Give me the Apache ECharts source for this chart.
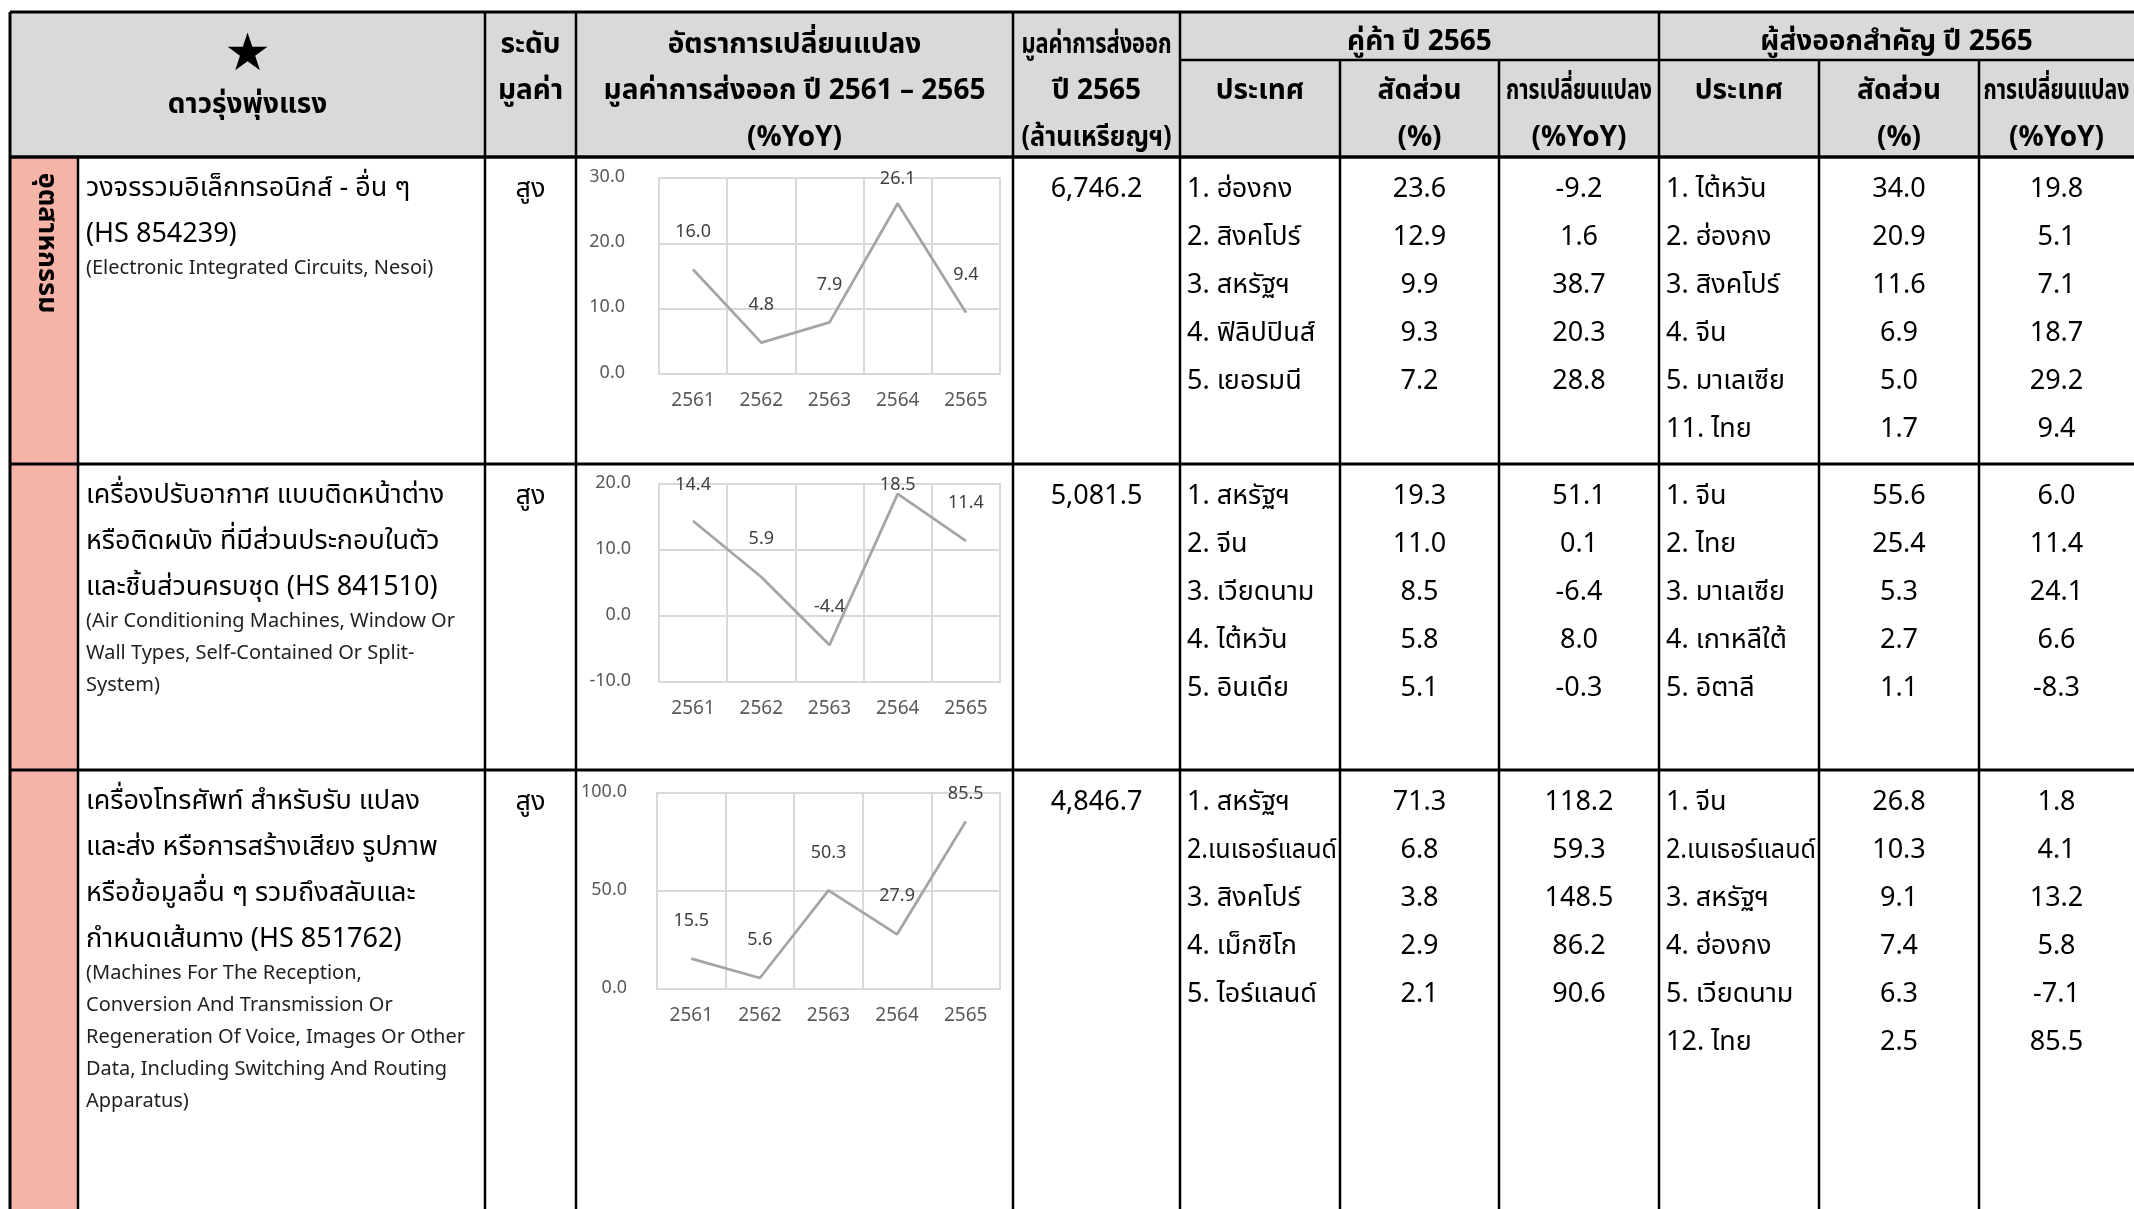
<!DOCTYPE html>
<html>
<head>
<meta charset="utf-8">
<script src="https://cdn.jsdelivr.net/npm/echarts@6/dist/echarts.min.js"></script>
<style>
  html, body { margin: 0; padding: 0; background: #fff; }
  #chart { width: 2134px; height: 1209px; }
</style>
</head>
<body>
<div id="chart"></div>
<script>
// ---------- data ----------
const years = ['2561', '2562', '2563', '2564', '2565'];
const groupName = 'อุตสาหกรรม';
const valueLevel = ['สูง', 'สูง', 'สูง'];
const exportValue2565 = [6746.2, 5081.5, 4846.7];

const icNameTh = ['วงจรรวมอิเล็กทรอนิกส์ - อื่น ๆ', '(HS 854239)'];
const icNameEn = ['(Electronic Integrated Circuits, Nesoi)'];
const icGrowth = [16.0, 4.8, 7.9, 26.1, 9.4];
const icPartners = ['1. ฮ่องกง', '2. สิงคโปร์', '3. สหรัฐฯ', '4. ฟิลิปปินส์', '5. เยอรมนี'];
const icPartnerShare = [23.6, 12.9, 9.9, 9.3, 7.2];
const icPartnerChange = [-9.2, 1.6, 38.7, 20.3, 28.8];
const icExporters = ['1. ไต้หวัน', '2. ฮ่องกง', '3. สิงคโปร์', '4. จีน', '5. มาเลเซีย', '11. ไทย'];
const icExporterShare = [34.0, 20.9, 11.6, 6.9, 5.0, 1.7];
const icExporterChange = [19.8, 5.1, 7.1, 18.7, 29.2, 9.4];

const acNameTh = ['เครื่องปรับอากาศ แบบติดหน้าต่าง', 'หรือติดผนัง ที่มีส่วนประกอบในตัว', 'และชิ้นส่วนครบชุด (HS 841510)'];
const acNameEn = ['(Air Conditioning Machines, Window Or', 'Wall Types, Self-Contained Or Split-', 'System)'];
const acGrowth = [14.4, 5.9, -4.4, 18.5, 11.4];
const acPartners = ['1. สหรัฐฯ', '2. จีน', '3. เวียดนาม', '4. ไต้หวัน', '5. อินเดีย'];
const acPartnerShare = [19.3, 11.0, 8.5, 5.8, 5.1];
const acPartnerChange = [51.1, 0.1, -6.4, 8.0, -0.3];
const acExporters = ['1. จีน', '2. ไทย', '3. มาเลเซีย', '4. เกาหลีใต้', '5. อิตาลี'];
const acExporterShare = [55.6, 25.4, 5.3, 2.7, 1.1];
const acExporterChange = [6.0, 11.4, 24.1, 6.6, -8.3];

const phoneNameTh = ['เครื่องโทรศัพท์ สำหรับรับ แปลง', 'และส่ง หรือการสร้างเสียง รูปภาพ', 'หรือข้อมูลอื่น ๆ รวมถึงสลับและ', 'กำหนดเส้นทาง (HS 851762)'];
const phoneNameEn = ['(Machines For The Reception,', 'Conversion And Transmission Or', 'Regeneration Of Voice, Images Or Other', 'Data, Including Switching And Routing', 'Apparatus)'];
const phoneGrowth = [15.5, 5.6, 50.3, 27.9, 85.5];
const phonePartners = ['1. สหรัฐฯ', '2.เนเธอร์แลนด์', '3. สิงคโปร์', '4. เม็กซิโก', '5. ไอร์แลนด์'];
const phonePartnerShare = [71.3, 6.8, 3.8, 2.9, 2.1];
const phonePartnerChange = [118.2, 59.3, 148.5, 86.2, 90.6];
const phoneExporters = ['1. จีน', '2.เนเธอร์แลนด์', '3. สหรัฐฯ', '4. ฮ่องกง', '5. เวียดนาม', '12. ไทย'];
const phoneExporterShare = [26.8, 10.3, 9.1, 7.4, 6.3, 2.5];
const phoneExporterChange = [1.8, 4.1, 13.2, 5.8, -7.1, 85.5];

// value-axis ranges of the three small growth charts
const growthAxisMin = [0, -10, 0];
const growthAxisMax = [30, 20, 100];
const growthAxisStep = [10, 10, 50];

// header captions
const headStar = '★';
const headProduct = 'ดาวรุ่งพุ่งแรง';
const headLevel = ['ระดับ', 'มูลค่า'];
const headGrowth = ['อัตราการเปลี่ยนแปลง', 'มูลค่าการส่งออก ปี 2561 – 2565', '(%YoY)'];
const headValue = ['มูลค่าการส่งออก', 'ปี 2565', '(ล้านเหรียญฯ)'];
const headPartnerGroup = 'คู่ค้า ปี 2565';
const headExporterGroup = 'ผู้ส่งออกสำคัญ ปี 2565';
const headCountry = 'ประเทศ';
const headShare = ['สัดส่วน', '(%)'];
const headChange = ['การเปลี่ยนแปลง', '(%YoY)'];

// ---------- layout ----------
const FONT = "'Noto Sans Thai', 'Noto Sans', 'DejaVu Sans', sans-serif";
const colX = [10, 78, 485, 576, 1013, 1180, 1340, 1499, 1659, 1819, 1979, 2134];
const headTop = 12, headMid = 60, headBottom = 157;
const rowTops = [157, 464, 770];
const pageBottom = 1209;

const rows = [
  { th: icNameTh, en: icNameEn, growth: icGrowth, partners: icPartners, pShare: icPartnerShare, pChange: icPartnerChange, exporters: icExporters, eShare: icExporterShare, eChange: icExporterChange },
  { th: acNameTh, en: acNameEn, growth: acGrowth, partners: acPartners, pShare: acPartnerShare, pChange: acPartnerChange, exporters: acExporters, eShare: acExporterShare, eChange: acExporterChange },
  { th: phoneNameTh, en: phoneNameEn, growth: phoneGrowth, partners: phonePartners, pShare: phonePartnerShare, pChange: phonePartnerChange, exporters: phoneExporters, eShare: phoneExporterShare, eChange: phoneExporterChange }
];

const elements = [];
const measureCtx = document.createElement('canvas').getContext('2d');

function rect(x, y, w, h, fill) {
  elements.push({ type: 'rect', silent: true, z: 0, shape: { x, y, width: w, height: h }, style: { fill } });
}
function hline(x1, x2, y, w) {
  elements.push({ type: 'line', silent: true, z: 5, shape: { x1, y1: y, x2, y2: y }, style: { stroke: '#000', lineWidth: w } });
}
function vline(x, y1, y2, w) {
  elements.push({ type: 'line', silent: true, z: 5, shape: { x1: x, y1, x2: x, y2 }, style: { stroke: '#000', lineWidth: w } });
}
function text(s, x, y, o) {
  o = o || {};
  const size = o.size || 27;
  const weight = o.weight || 'normal';
  measureCtx.font = weight + ' ' + size + 'px ' + FONT;
  const w = measureCtx.measureText(s).width;
  let sx = o.sx || 1;
  if (o.maxW && w * sx > o.maxW) sx = o.maxW / w;
  const align = o.align || 'center';
  elements.push({
    type: 'text', silent: true, z: 6, x, y, scaleX: sx, rotation: o.rotation || 0,
    style: {
      text: s, x: 0, y: 0, fill: o.color || '#000',
      fontSize: size, fontFamily: FONT, fontWeight: weight,
      align, verticalAlign: 'middle', textAlign: align, textVerticalAlign: 'middle'
    }
  });
}
const fmt1 = v => v.toFixed(1);
const fmtValue = v => v.toLocaleString('en-US', { minimumFractionDigits: 1, maximumFractionDigits: 1 });
const mid = (a, b) => (a + b) / 2;

// backgrounds
rect(colX[0], headTop, colX[11] - colX[0], headBottom - headTop, '#d9d9d9');
rect(colX[0], headBottom, colX[1] - colX[0], pageBottom - headBottom, '#f6b3a8');

// header captions
const hY = [47, 93, 140];
const HS = 28;
text(headStar, mid(colX[0], colX[2]), 59, { size: 52 });
text(headProduct, mid(colX[0], colX[2]), 107, { size: HS, weight: 'bold' });
headLevel.forEach((s, i) => text(s, mid(colX[2], colX[3]), hY[i], { size: HS, weight: 'bold', maxW: 84 }));
headGrowth.forEach((s, i) => text(s, mid(colX[3], colX[4]), hY[i], { size: HS, weight: 'bold', maxW: 420 }));
headValue.forEach((s, i) => text(s, mid(colX[4], colX[5]), hY[i], { size: HS, weight: 'bold', maxW: 150 }));
text(headPartnerGroup, mid(colX[5], colX[8]), 44, { size: HS, weight: 'bold' });
text(headExporterGroup, mid(colX[8], colX[11]), 44, { size: HS, weight: 'bold' });
[[5, 6, 7], [8, 9, 10]].forEach(([c1, c2, c3]) => {
  text(headCountry, mid(colX[c1], colX[c1 + 1]), hY[1], { size: HS, weight: 'bold', maxW: 150 });
  headShare.forEach((s, i) => text(s, mid(colX[c2], colX[c2 + 1]), hY[i + 1], { size: HS, weight: 'bold', maxW: 150 }));
  headChange.forEach((s, i) => text(s, mid(colX[c3], colX[c3 + 1]), hY[i + 1], { size: HS, weight: 'bold', maxW: 146 }));
});

// vertical group label in the pink column
text(groupName, mid(colX[0], colX[1]), 243, { size: 27, weight: 'bold', rotation: -Math.PI / 2 });

// body rows
rows.forEach((r, i) => {
  const top = rowTops[i];
  const y0 = top + 35;
  let y = y0;
  r.th.forEach((s, k) => { y = top + 34 + k * 46; text(s, colX[1] + 8, y, { align: 'left', size: 27, maxW: colX[2] - colX[1] - 14 }); });
  const e0 = y + 33;
  r.en.forEach((s, k) => text(s, colX[1] + 8, e0 + k * 32, { align: 'left', size: 20, color: '#222', maxW: colX[2] - colX[1] - 14 }));
  text(valueLevel[i], mid(colX[2], colX[3]), y0, { size: 27 });
  text(fmtValue(exportValue2565[i]), mid(colX[4], colX[5]), y0, { size: 27 });
  r.partners.forEach((s, k) => {
    const yy = y0 + k * 48;
    text(s, colX[5] + 7, yy, { align: 'left', size: 27, maxW: colX[6] - colX[5] - 10 });
    text(fmt1(r.pShare[k]), mid(colX[6], colX[7]), yy, { size: 27 });
    text(fmt1(r.pChange[k]), mid(colX[7], colX[8]), yy, { size: 27 });
  });
  r.exporters.forEach((s, k) => {
    const yy = y0 + k * 48;
    text(s, colX[8] + 7, yy, { align: 'left', size: 27, maxW: colX[9] - colX[8] - 10 });
    text(fmt1(r.eShare[k]), mid(colX[9], colX[10]), yy, { size: 27 });
    text(fmt1(r.eChange[k]), mid(colX[10], colX[11]), yy, { size: 27 });
  });
});

// table rules
hline(colX[0], colX[11], headTop, 3);
hline(colX[5], colX[11], headMid, 2.5);
hline(colX[0], colX[11], headBottom, 3.5);
rowTops.slice(1).forEach(y => hline(colX[0], colX[11], y, 3));
vline(colX[0], headTop, pageBottom, 3);
vline(colX[1], headBottom, pageBottom, 2.5);
[2, 3, 4, 5, 8].forEach(c => vline(colX[c], headTop, pageBottom, 2.5));
[6, 7, 9, 10].forEach(c => vline(colX[c], headMid, pageBottom, 2.5));

// ---------- small growth charts ----------
const boxes = [
  { left: 659, top: 178, width: 341, height: 196, yMargin: 34 },
  { left: 659, top: 484, width: 341, height: 198, yMargin: 28 },
  { left: 657, top: 793, width: 343, height: 196, yMargin: 30 }
];
const grids = [], xAxes = [], yAxes = [], series = [];
const gridColor = '#d9d9d9';
boxes.forEach((b, i) => {
  grids.push({ left: b.left, top: b.top, width: b.width, height: b.height, show: true, borderColor: gridColor, borderWidth: 2, backgroundColor: 'transparent', containLabel: false });
  xAxes.push({
    type: 'category', gridIndex: i, data: years, boundaryGap: true,
    axisLine: { show: false, onZero: false }, axisTick: { show: false },
    axisLabel: { margin: 19, fontSize: 19, color: '#595959', fontFamily: FONT },
    splitLine: { show: true, lineStyle: { color: gridColor, width: 2 } }
  });
  yAxes.push({
    type: 'value', gridIndex: i, min: growthAxisMin[i], max: growthAxisMax[i], interval: growthAxisStep[i],
    axisLine: { show: false }, axisTick: { show: false },
    axisLabel: { margin: b.yMargin, fontSize: 18, color: '#595959', fontFamily: FONT, formatter: v => v.toFixed(1) },
    splitLine: { show: true, lineStyle: { color: gridColor, width: 2 } }
  });
  const minTop = b.top - 7;
  series.push({
    type: 'line', xAxisIndex: i, yAxisIndex: i, data: rows[i].growth,
    symbol: 'circle', symbolSize: 1, itemStyle: { color: '#a5a5a5' },
    lineStyle: { color: '#a5a5a5', width: 2.75 },
    label: { show: true, position: 'top', distance: 27, fontSize: 18, color: '#404040', fontFamily: FONT, formatter: p => fmt1(p.value) },
    labelLayout: p => ({ dy: Math.max(0, minTop - p.labelRect.y) }),
    silent: true, animation: false, z: 3
  });
});

const chart = echarts.init(document.getElementById('chart'), null, { renderer: 'canvas' });
chart.setOption({
  backgroundColor: '#fff',
  animation: false,
  grid: grids,
  xAxis: xAxes,
  yAxis: yAxes,
  series: series,
  graphic: { elements: elements }
});
</script>
</body>
</html>
